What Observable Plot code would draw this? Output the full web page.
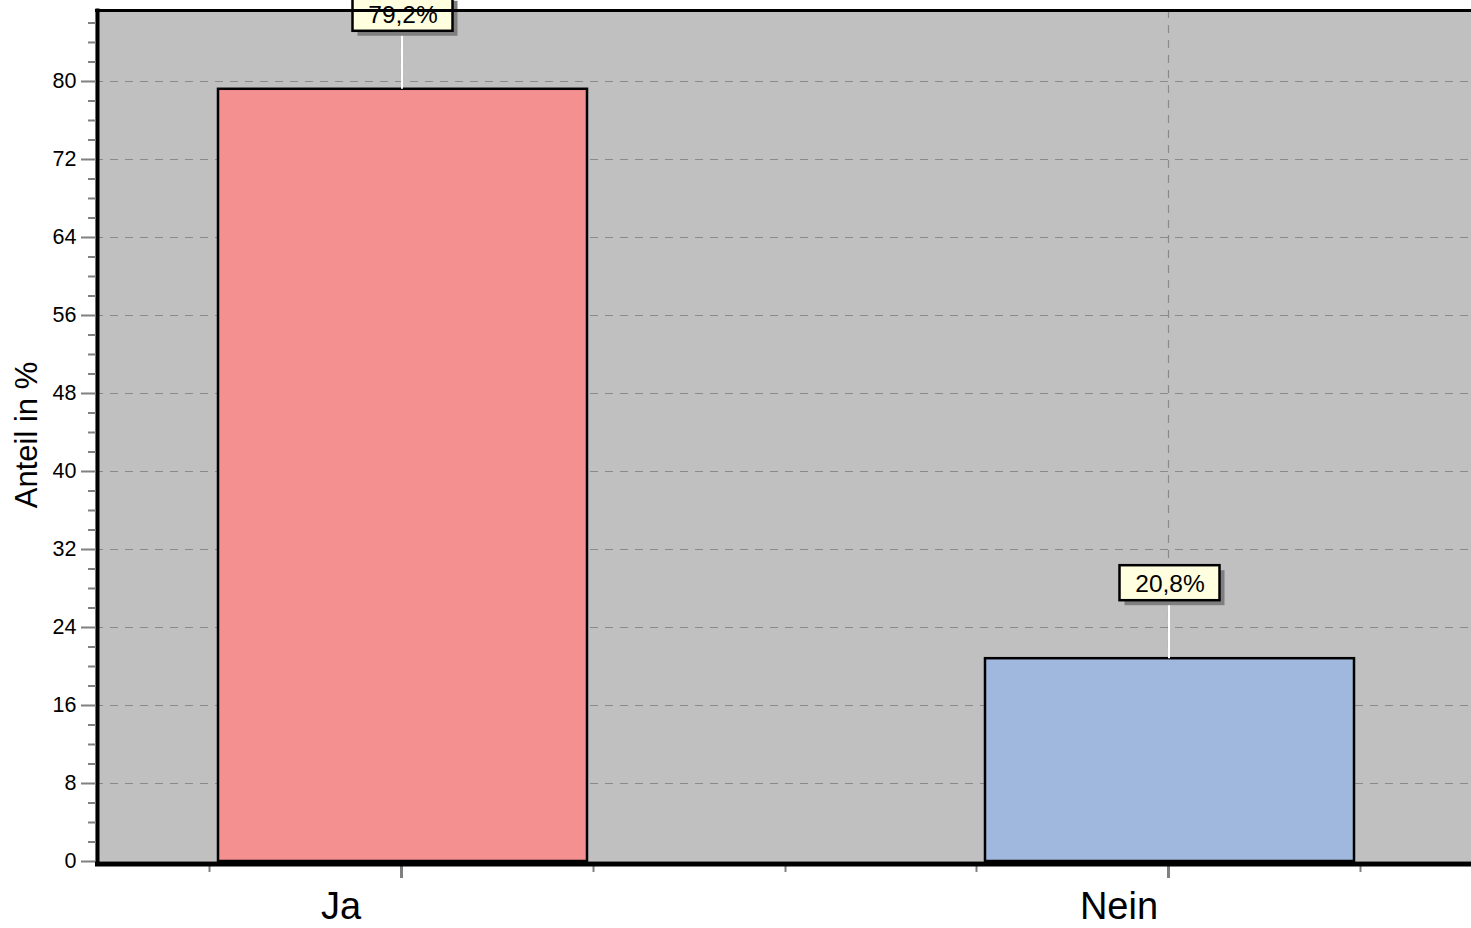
<!DOCTYPE html>
<html>
<head>
<meta charset="utf-8">
<script src="https://cdn.jsdelivr.net/npm/d3@7"></script>
<script src="https://cdn.jsdelivr.net/npm/@observablehq/plot@0.6"></script>
<style>
  html, body { margin: 0; padding: 0; background: #fff; overflow: hidden; }
  #chart { width: 1471px; height: 928px; overflow: hidden; position: relative; }
  #chart svg { position: absolute; left: 0; top: -20px; overflow: visible; max-width: none !important; width: 1480px; height: 948px; }
</style>
</head>
<body>
<div id="chart"></div>
<script>
// ---- data ----
const categories = ["Ja", "Nein"];
const values = [79.2, 20.8];
const valueLabels = ["79,2%", "20,8%"];
const barColors = ["#F4908F", "#A1B8DE"];
const yMajorTicks = [0, 8, 16, 24, 32, 40, 48, 56, 64, 72, 80];
const yMinorTicks = [2, 4, 6, 10, 12, 14, 18, 20, 22, 26, 28, 30, 34, 36, 38, 42, 44, 46, 50, 52, 54, 58, 60, 62, 66, 68, 70, 74, 76, 78, 82, 84, 86];
const yAxisTitle = "Anteil in %";

const data = categories.map((c, i) => ({cat: c, value: values[i], label: valueLabels[i], color: barColors[i]}));

const font = "'Liberation Sans', Arial, Helvetica, sans-serif";
const grid = "#8a8a8a";

const labelDx = {"Ja": -62, "Nein": -51};
const tickShift = -1.5;

const plot = Plot.plot({
  width: 1480,
  height: 948,
  marginTop: 30,
  marginBottom: 67,
  marginLeft: 95,
  marginRight: 4,
  style: {fontFamily: font, background: "transparent", color: "#000"},
  x: {domain: categories, paddingInner: 0.5195, paddingOuter: 0.1589, axis: null},
  y: {type: "linear", domain: [0, 87.28], axis: null, label: null},
  marks: [
    Plot.frame({fill: "#C0C0C0", stroke: null}),
    // horizontal grid
    Plot.gridY(yMajorTicks.filter(d => d > 0), {stroke: grid, strokeOpacity: 1, strokeWidth: 1.2, strokeDasharray: "8,7"}),
    // vertical grid at category centers
    Plot.ruleX(categories, {x: d => d, dx: tickShift, stroke: grid, strokeWidth: 1.2, strokeDasharray: "8,7"}),
    // bars
    Plot.barY(data, {x: "cat", y: "value", fill: "color", stroke: "#000", strokeWidth: 2.5}),
    // connectors
    Plot.ruleX(data, {x: "cat", y1: "value", y2: "value", insetTop: -58, dx: tickShift + 0.5, stroke: "#fff", strokeWidth: 2}),
    // label box shadow
    Plot.barY(data, {x: "cat", y1: "value", y2: "value", insetLeft: 134.5, insetRight: 134.5, insetTop: -93, insetBottom: 58, dx: 5, dy: 5, fill: "#7f7f7f"}),
    // label box
    Plot.barY(data, {x: "cat", y1: "value", y2: "value", insetLeft: 134.5, insetRight: 134.5, insetTop: -93, insetBottom: 58, fill: "#FFFFE0", stroke: "#000", strokeWidth: 2.5}),
    Plot.text(data, {x: "cat", y: "value", text: "label", dy: -74.5, fontSize: 24.5, fill: "#000", textAnchor: "middle", lineAnchor: "middle"}),
    // frame lines
    Plot.ruleY([87.28], {stroke: "#000", strokeWidth: 3}),
    Plot.frame({anchor: "left", stroke: "#000", strokeWidth: 4, dx: 2}),
    // y axis
    Plot.axisY(yMinorTicks, {tickSize: 8, text: null, stroke: "#808080", strokeWidth: 2, label: null, dx: 1}),
    Plot.axisY(yMajorTicks, {tickSize: 15, tickPadding: 5, stroke: "#808080", strokeWidth: 2, fontSize: 21.5, fill: "#000", label: null, dx: 1}),
    Plot.text([yAxisTitle], {frameAnchor: "left", dx: -68, rotate: -90, fontSize: 31, fill: "#000", textAnchor: "middle", lineAnchor: "middle", dy: -1}),
    // x axis ticks
    Plot.ruleX(categories, {x: d => d, y1: 0, y2: 0, insetTop: 4, insetBottom: -17, dx: tickShift, stroke: "#808080", strokeWidth: 3}),
    ...[-192, 192].map(off => Plot.ruleX(categories, {x: d => d, y1: 0, y2: 0, insetTop: 4, insetBottom: -11, stroke: "#808080", strokeWidth: 2, dx: off + tickShift})),
    Plot.ruleX([categories[0]], {x: d => d, y1: 0, y2: 0, insetTop: 4, insetBottom: -11, stroke: "#808080", strokeWidth: 2, dx: 384 + tickShift}),
    // bottom axis line
    Plot.ruleY([0], {stroke: "#000", strokeWidth: 5, dy: 2.5}),
    // category labels
    ...categories.map(c => Plot.text([c], {x: d => d, frameAnchor: "bottom", dy: 45, dx: labelDx[c], fontSize: 38, fill: "#000", textAnchor: "middle", lineAnchor: "middle"}))
  ]
});
document.getElementById("chart").appendChild(plot);
</script>
</body>
</html>
